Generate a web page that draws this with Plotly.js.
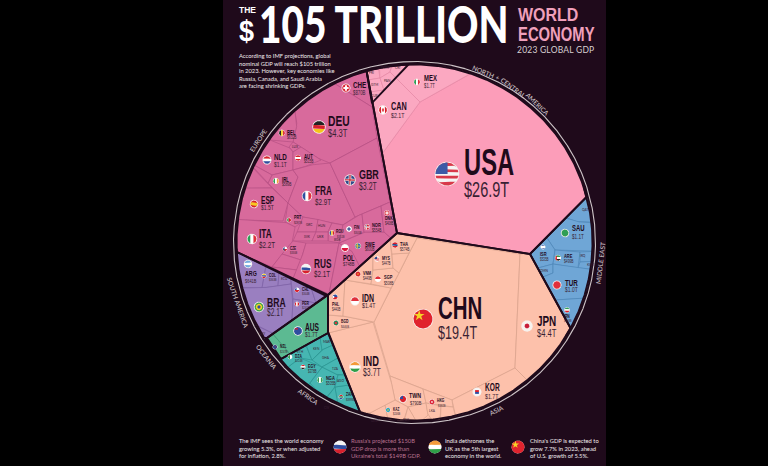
<!DOCTYPE html>
<html><head><meta charset="utf-8">
<script src="https://cdn.plot.ly/plotly-3.0.1.min.js"></script>
<style>html,body{margin:0;padding:0;background:#000}</style></head>
<body><div id="chart" style="width:768px;height:466px"></div>
<script>
// ---------- data ----------
const codes = ["USA","CHN","JPN","DEU","IND","GBR","FRA","ITA","CAN","RUS","BRA","AUS","KOR","MEX","ESP","IDN","NLD","SAU","TUR","CHE","TWN","POL","ARG","BEL","SWE","IRL","NOR","ISR","AUT","ARE","THA","NGA","EGY","ZAF","SGP","MYS","VNM","PHL","BGD","HKG","DNK","FIN","ROU","IRN","COL","CHL","PER","DZA","KAZ","CZE","PRT","NZL"];
const gdp = ["$26.9T","$19.4T","$4.4T","$4.3T","$3.7T","$3.2T","$2.9T","$2.2T","$2.1T","$2.1T","$2.1T","$1.7T","$1.7T","$1.7T","$1.5T","$1.4T","$1.1T","$1.1T","$1.0T","$870B","$790B","$748B","$641B","$632B","$600B","$589B","$554B","$535B","$515B","$499B","$574B","$505B","$378B","$399B","$508B","$447B","$449B","$440B","$446B","$382B","$408B","$305B","$351B","$368B","$363B","$344B","$265B","$224B","$246B","$330B","$287B","$247B"];
const regionNames = ["NORTH","+","CENTRAL","AMERICA","EUROPE","SOUTH AMERICA","OCEANIA","AFRICA","ASIA","MIDDLE EAST"];
const tinyLabels = ["PRI","DOM","CRI","GTM","PAN","CUB","GRC","HUN","SVK","UKR","BGR","LUX","ECU","URY","ETH","KEN","MAR","GHA","TZA","AGO","CIV","UZB","PAK","LKA","QAT","KWT","IRQ","OMN"];
const titleMain = "105 TRILLION";
const introText = "According to IMF projections, global<br>nominal GDP will reach $105 trillion<br>in 2023. However, key economies like<br>Russia, Canada, and Saudi Arabia<br>are facing shrinking GDPs.";
const notes = ["The IMF sees the world economy<br>growing 5.3%, or when adjusted<br>for inflation, 2.8%.",
 "Russia's projected $150B<br>GDP drop is more than<br>Ukraine's total $149B GDP.",
 "India dethrones the<br>UK as the 5th largest<br>economy in the world.",
 "China's GDP is expected to<br>grow 7.7% in 2023, ahead<br>of U.S. growth of 5.5%."];

// ---------- geometry tables ----------
const BG="#1f0a1b", INK="#1f0a1b";
const CX=414.5, CY=242.5, R=178;
const regionStyle = {
 usa:{f:"#fc9db9",l:"#e58aa6"}, nam:{f:"#fba8c1",l:"#e58aa6"},
 eur:{f:"#d86a9c",l:"#b65084"}, asi:{f:"#fdc1ab",l:"#d9a28c"},
 mde:{f:"#6fa6d6",l:"#4f86b8"}, sam:{f:"#9a7fc0",l:"#7d62a5"},
 oce:{f:"#5cba92",l:"#3f9874"}, afr:{f:"#46b6b2",l:"#2b9491"}
};
const regionOutlines = [
 ["usa",[[366,68],[397,233],[530,254],[600,184],[640,60],[400,30]]],
 ["eur",[[366,68],[397,233],[328,295],[237,252],[200,180],[280,40]]],
 ["asi",[[397,233],[530,254],[570,327],[580,345],[560,460],[400,460],[360,412],[328,333],[328,295]]],
 ["mde",[[530,254],[600,184],[650,240],[580,345],[570,327]]],
 ["sam",[[237,252],[326,296],[267,338],[200,340],[200,250]]],
 ["oce",[[328,295],[328,333],[281,359],[267,338]]],
 ["afr",[[328,333],[360,412],[300,420],[281,359]]],
 ["nam",[[366,68],[372,103],[396,78],[408,65],[400,40],[360,40]]]
];
const cells = [
 ["usa",[[382,154],[420,102],[468,75],[500,60],[640,120],[600,184],[586,198],[530,254],[397,233]]],
 ["nam",[[372,103],[396,78],[420,102],[382,154]]],
 ["nam",[[396,78],[408,65],[420,40],[480,50],[468,75],[420,102]]],
 ["nam",[[366,68],[378,65],[380,78],[368,80]]],["nam",[[378,60],[393,60],[390,72],[380,78]]],
 ["nam",[[393,60],[408,65],[396,78],[390,72]]],["nam",[[368,80],[380,78],[384,90],[370,92]]],
 ["nam",[[380,78],[390,72],[396,78],[384,90]]],["nam",[[370,92],[384,90],[372,103]]],
 // Europe
 ["eur",[[332,82],[372,107],[366,68],[345,55]]],
 ["eur",[[332,82],[372,107],[377,138],[330,163],[321,160],[301,147],[293,142],[297,125],[295,112],[310,80]]],
 ["eur",[[295,112],[297,125],[293,142],[270,140],[260,120]]],
 ["eur",[[293,142],[301,147],[293,152],[289,147]]],
 ["eur",[[270,140],[289,147],[293,152],[293,170],[272,175],[250,163]]],
 ["eur",[[293,152],[301,147],[321,160],[310,165],[293,170]]],
 ["eur",[[272,175],[293,170],[298,177],[288,203],[268,183]]],
 ["eur",[[250,163],[272,175],[268,183],[253,168]]],
 ["eur",[[253,168],[268,183],[272,188],[240,188]]],
 ["eur",[[240,188],[272,188],[288,203],[283,221],[230,219]]],
 ["eur",[[288,203],[303,217],[302,222],[295,227],[285,222]]],
 ["eur",[[230,219],[285,222],[295,227],[293,241],[272,267],[237,252],[220,235]]],
 ["eur",[[293,170],[310,165],[330,163],[355,217],[343,225],[303,217],[288,203],[298,177]]],
 ["eur",[[330,163],[377,138],[390,202],[355,217]]],
 ["eur",[[303,217],[318,219.5],[316,232],[297,232]]],["eur",[[318,219.5],[332,223],[328,232],[316,232]]],
 ["eur",[[332,223],[343,225],[340,243],[328,241],[328,232]]],["eur",[[297,232],[316,232],[312,241],[293,241]]],
 ["eur",[[316,232],[328,232],[328,241],[312,241]]],
 ["eur",[[293,241],[306,243],[301,260],[282,254]]],["eur",[[282,254],[301,260],[297,270],[272,267]]],
 ["eur",[[272,267],[297,270],[293,278.5]]],
 ["eur",[[306,243],[339,243],[329,294],[293,278.5],[301,260]]],
 ["eur",[[339,243],[353,252],[360,267],[329,294]]],
 ["eur",[[339,243],[364,232],[384,232],[392,239],[360,267],[353,252]]],
 ["eur",[[343,225],[355,217],[362,214],[364,232],[339,243]]],
 ["eur",[[362,214],[381,206],[384,232],[364,232]]],
 ["eur",[[381,206],[390,202],[397,233],[392,239],[384,232]]],
 // Asia
 ["asi",[[417,238],[520,254],[515,368],[452,400],[390,376],[374,322]]],
 ["asi",[[520,254],[530,254],[570,327],[580,345],[560,400],[527,380],[515,368]]],
 ["asi",[[515,368],[527,380],[500,440],[460,430],[456,418],[452,400]]],
 ["asi",[[390,376],[423,389],[426,403],[408,407],[395,400]]],
 ["asi",[[423,389],[452,400],[453,407],[426,403]]],
 ["asi",[[408,407],[426,403],[428,415],[418,425]]],["asi",[[426,403],[441,406],[440,430],[428,415]]],
 ["asi",[[441,406],[453,407],[456,418],[458,430],[440,430]]],
 ["asi",[[370,413],[385,405],[390,430],[372,430]]],["asi",[[385,405],[395,400],[408,407],[405,418],[396,430],[390,430]]],
 ["asi",[[408,407],[418,425],[412,435],[396,430],[405,418]]],
 ["asi",[[328,333],[373,322],[390,376],[395,400],[370,413],[360,412]]],
 ["asi",[[328,333],[328,315],[343,316],[373,322]]],
 ["asi",[[328,295],[345,280],[343,316],[328,315]]],
 ["asi",[[345,280],[391,288],[374,322],[343,316]]],
 ["asi",[[345,280],[373,255],[373,270],[371,284]]],
 ["asi",[[371,284],[373,270],[393,268],[399,273],[391,288]]],
 ["asi",[[373,255],[390,239],[392,254],[393,268],[373,270]]],
 ["asi",[[392,254],[409,253],[399,273],[393,268]]],
 ["asi",[[390,239],[397,233],[417,238],[409,253],[392,254]]],
 // Middle East
 ["mde",[[566,218],[586,198],[620,190],[620,222],[578,222]]],
 ["mde",[[547,238],[566,218],[578,222],[620,222],[620,252],[555,250]]],
 ["mde",[[530,254],[547,238],[555,250],[553,264],[538,268]]],
 ["mde",[[555,250],[580,252],[578,268],[553,264]]],
 ["mde",[[580,252],[620,252],[620,262],[580,262]]],
 ["mde",[[580,262],[620,262],[620,272],[578,268]]],
 ["mde",[[538,268],[553,264],[553,273],[543,277]]],
 ["mde",[[543,277],[553,273],[553,264],[578,268],[620,272],[620,290],[590,298],[555,300]]],
 ["mde",[[555,300],[590,298],[620,290],[620,330],[580,345],[570,327]]],
 // South America
 ["sam",[[237,252],[266,266],[262,288],[240,288],[220,270]]],
 ["sam",[[266,266],[279,272],[278,286],[262,288]]],
 ["sam",[[279,272],[291,278],[291,284],[278,286]]],
 ["sam",[[240,288],[262,288],[291,284],[293,299],[292,320],[272,333],[255,325],[225,295]]],
 ["sam",[[291,278],[311,287.5],[316,303],[293,299],[291,284]]],
 ["sam",[[293,299],[316,303],[292,320]]],
 ["sam",[[311,287.5],[326,296],[316,303]]],
 ["sam",[[255,325],[272,333],[267,338],[245,345]]],
 // Oceania
 ["oce",[[267,338],[273,334],[290,354],[281,359]]],
 ["oce",[[273,334],[326,296],[328,295],[328,333],[290,354]]],
 // Africa
 ["afr",[[310,383],[322,367],[338,375],[335,387],[325,400]]],
 ["afr",[[335,387],[349,385],[360,412],[345,430],[337,403]]],
 ["afr",[[325,400],[335,387],[337,403],[330,420],[315,405]]],
 ["afr",[[288,367],[300,358],[322,367],[310,383],[300,395],[275,375]]],
 ["afr",[[281,359],[306,345],[312,360],[300,358],[288,367]]],
 ["afr",[[306,345],[320,337],[322,350],[312,360]]],
 ["afr",[[320,337],[328,333],[333,345],[322,350]]],
 ["afr",[[312,360],[322,350],[333,345],[338,358],[322,367]]],
 ["afr",[[338,358],[345,375],[338,375],[322,367]]],
 ["afr",[[345,375],[349,385],[335,387],[338,375]]]
];
const bandsH=(a,b,c)=>[[a,-1,-1,1,-.33],[b,-1,-.33,1,.33],[c,-1,.33,1,1]];
const bandsV=(a,b,c)=>[[a,-1,-1,-.33,1],[b,-.33,-1,.33,1],[c,.33,-1,1,1]];
const disc=(bg,c,s)=>[[bg,-1,-1,1,1],[c,-1,-1,1,1,s]];
const crossF=(bg,c)=>[[bg,-1,-1,1,1],[c,-.25,-.7,.25,.7],[c,-.7,-.25,.7,.25]];
const usaStripes=[];for(let i=0;i<7;i++){usaStripes.push([i%2?"#f4f4f4":"#d8394a",-1,-1+i*2/7,1,-1+(i+1)*2/7]);}
usaStripes.push(["#3c5aa6",-1,-1,0.05,0]);
const flagLayers={
 USA:usaStripes,CHN:[["#e0232e",-1,-1,1,1]],JPN:disc("#f7f3ee","#c81e3a",.5),
 DEU:bandsH("#222","#d5212c","#f5c518"),IND:bandsH("#f39a3a","#fff","#2f9e48"),
 GBR:[["#2f4a8a",-1,-1,1,1],["#f2f2f2",-.28,-1,.28,1],["#f2f2f2",-1,-.28,1,.28],["#c8202f",-.13,-1,.13,1],["#c8202f",-1,-.13,1,.13]],
 FRA:bandsV("#2f4da0","#fff","#e0303c"),ITA:bandsV("#2d9e55","#fff","#e0303c"),
 CAN:[["#fff",-1,-1,1,1],["#d8202c",-1,-1,-.5,1],["#d8202c",.5,-1,1,1],["#d8202c",-.2,-.35,.2,.35]],
 RUS:bandsH("#f4f4f4","#2f4da0","#d8202c"),BRA:[["#3aa04a",-1,-1,1,1],["#f5d327",-1,-1,1,1,.72],["#2f4da0",-1,-1,1,1,.38]],
 AUS:[["#2f4da0",-1,-1,1,1],["#d8202c",-.8,-.7,0,-.35]],KOR:[["#f5f5f5",-1,-1,1,1],["#d8202c",-.5,-.5,.5,0],["#2f4da0",-.5,0,.5,.5]],
 MEX:bandsV("#2f9e55","#fff","#e0303c"),ESP:[["#d8202c",-1,-1,1,1],["#f6c722",-1,-.5,1,.5]],
 IDN:[["#e0303c",-1,-1,1,0],["#fff",-1,0,1,1]],NLD:bandsH("#d8202c","#fff","#2f4da0"),
 SAU:[["#2f9e55",-1,-1,1,1],["#fff",-.5,-.1,.5,.1]],TUR:disc("#e0303c","#e0303c",.4),CHE:crossF("#dc2336","#fff"),
 TWN:[["#d8202c",-1,-1,1,1],["#2f4da0",-1,-1,0,0]],POL:[["#fff",-1,-1,1,0],["#dc143c",-1,0,1,1]],
 ARG:bandsH("#74acdf","#fff","#74acdf"),BEL:bandsV("#222","#f5d327","#e0303c"),
 SWE:[["#2f6fb0",-1,-1,1,1],["#f5d327",-.5,-1,-.1,1],["#f5d327",-1,-.2,1,.2]],IRL:bandsV("#2f9e55","#fff","#f39a3a"),
 NOR:[["#d8202c",-1,-1,1,1],["#fff",-.55,-1,-.05,1],["#fff",-1,-.25,1,.25],["#2f4a8a",-.4,-1,-.2,1],["#2f4a8a",-1,-.1,1,.1]],
 ISR:[["#fff",-1,-1,1,1],["#2f4da0",-1,-.8,1,-.5],["#2f4da0",-1,.5,1,.8]],AUT:bandsH("#d8202c","#fff","#d8202c"),
 ARE:[["#fff",-1,-1,1,1],["#2f9e55",-1,-1,1,-.33],["#222",-1,.33,1,1],["#d8202c",-1,-1,-.4,1]],THA:bandsH("#d8202c","#2f4a8a","#d8202c"),
 NGA:bandsV("#2f9e55","#fff","#2f9e55"),EGY:bandsH("#d8202c","#fff","#222"),ZAF:bandsH("#d8202c","#2f9e55","#2f4da0"),
 SGP:[["#e0303c",-1,-1,1,0],["#fff",-1,0,1,1]],MYS:[["#fff",-1,-1,1,1],["#d8202c",-1,-.6,1,-.2],["#d8202c",-1,.2,1,.6],["#2f4a8a",-1,-1,0,0]],
 VNM:disc("#d8202c","#f5d327",.35),PHL:[["#2f4da0",-1,-1,1,0],["#d8202c",-1,0,1,1],["#fff",-1,-.4,-.3,.4]],
 BGD:disc("#1f8a55","#e0303c",.55),HKG:disc("#dc2336","#fff",.4),DNK:crossF("#d8202c","#fff"),
 FIN:crossF("#fff","#2f4a8a"),ROU:bandsV("#2f4da0","#f5d327","#d8202c"),IRN:bandsH("#2f9e55","#fff","#d8202c"),
 COL:bandsH("#f5d327","#2f4da0","#d8202c"),CHL:[["#fff",-1,-1,1,0],["#d8202c",-1,0,1,1],["#2f4da0",-1,-1,-.2,0]],
 PER:bandsV("#d8202c","#fff","#d8202c"),DZA:[["#2f9e55",-1,-1,0,1],["#fff",0,-1,1,1]],KAZ:disc("#30a5c0","#f5d327",.4),
 CZE:[["#fff",-1,-1,1,0],["#d8202c",-1,0,1,1],["#2f4a8a",-1,-1,-.2,1]],PRT:[["#2f9e55",-1,-1,-.2,1],["#d8202c",-.2,-1,1,1]],
 NZL:[["#2f4a8a",-1,-1,1,1],["#d8202c",.2,-.6,.5,.4]]
};
const labelLayout={
 USA:[447,174,11.5, 463,162,36, 463,189,22],
 CHN:[423,319,9.5, 437,308,31, 437,332.5,19],
 JPN:[527,326,5, 536,320.5,15, 536,332.5,11.5],
 DEU:[319,127,6, 327,120,15.5, 327,133,11.5],
 IND:[355,367,5, 362,361,14, 362,372,10.5],
 GBR:[350,180,5, 358,174,13.5, 358,186,10.5],
 FRA:[307,196,4.5, 314,191,12.5, 314,201,9.5],
 ITA:[252,239,4.5, 258,234,12.5, 258,244,9.5],
 CAN:[383,110,4, 390,106,11, 390,115,8],
 RUS:[306,269,4.5, 313,264,12.5, 313,273.5,9.5],
 BRA:[259,307,4.5, 266,302,13, 266,312,10],
 AUS:[298,331,4, 304,327,10, 304,334,7.5],
 KOR:[477,392,3.8, 484,387,10, 484,396,8],
 MEX:[417,82,3, 423,77.5,9, 423,85,6.5],
 ESP:[254,204,3.5, 260,200,10, 260,207.5,7.5],
 IDN:[355,301,3.8, 361,298,10.5, 361,305.5,8],
 NLD:[267,160,3.8, 273,156.5,9.5, 273,164,7.5],
 SAU:[565,233,3.5, 571,227.5,9, 571,236.5,7],
 TUR:[557,285,3.8, 564,282,9.5, 564,289.5,7.5],
 CHE:[346,88,3.8, 352,84,9.5, 352,92,6.5],
 TWN:[403,399,3.2, 408,395.5,8, 409,403,6],
 POL:[345,248,3.2, 342,257.5,8.5, 342,264,6],
 ARG:[248,264,3.5, 244,273,8, 244,280.5,6],
 BEL:[282,133,3, 286,132,6.5, 286,137,5],
 SWE:[358,246,2.8, 364,244,6.5, 364,249,5],
 IRL:[276,181,2.8, 281,179,6.5, 281,184,5],
 NOR:[367,227,2.6, 371,225,6, 371,230,5],
 ISR:[543,247,2.2, 539,254,6, 539,259.5,4.5],
 AUT:[298,158,2.8, 303,156,6.5, 303,161,5],
 ARE:[558,258,2.8, 563,256,6, 563,261,5],
 THA:[395,245,2.8, 399,243.5,6, 399,249,5],
 NGA:[320,380,2.8, 325,378,6, 325,383,5],
 EGY:[303,367,2.2, 307,366,5.5, 307,371,4.5],
 ZAF:[341,397,2.2, 345,394,5, 345,399,4.2],
 SGP:[378,279,2.8, 383,277,6, 383,283,5],
 MYS:[377,259,2.5, 381,258,5.5, 381,263,4.5],
 VNM:[358,274,2.5, 362,273,5.5, 362,278,4.5],
 PHL:[335,297,2.5, 331,304,5.5, 331,309,4.5],
 BGD:[336,323,2.5, 340,321,5, 340,326,4.2],
 HKG:[432,402,2.5, 436,400,5, 437,405,4],
 DNK:[387,213,2.5, 384,218,5.5, 384,223,4.5],
 FIN:[349,229,2.5, 353,227,5, 353,232,4],
 ROU:[332,233,2.5, 335,231,5, 336,236,4],
 IRN:[567,310,2.5, 563,316,5, 563,320,4],
 COL:[264,276,2.2, 268,274.5,5, 268,279,4],
 CHL:[297,290,2.2, 301,289,5, 301,293.5,4],
 PER:[297,304,2.2, 301,303,5, 301,307.5,4],
 DZA:[290,357,2, 294,356,5, 294,360.5,4],
 KAZ:[388,410,2.2, 392,409,4.6, 392,413.5,3.8],
 CZE:[285,249,2, 289,248,4.6, 289,252.5,3.8],
 PRT:[289,220,2, 293,217,5.5, 293,222,4.2],
 NZL:[275,347,2.2, 279,346,5, 279,351,4]
};
const tinyLayout={PRI:[371,73],DOM:[385,68],CRI:[397,68],GTM:[374,85],PAN:[387,81],CUB:[374,96],
 GRC:[309,225],HUN:[322,226],SVK:[307,237],UKR:[320,237],BGR:[337,240],LUX:[295,147],ECU:[284,279],URY:[262,334],
 ETH:[300,352],KEN:[316,349],MAR:[326,342],GHA:[326,358],TZA:[335,369],AGO:[340,381],CIV:[327,408],
 UZB:[374,421],PAK:[406,420],LKA:[432,411],QAT:[585,210],KWT:[590,265],IRQ:[583,256],OMN:[544,271]};
const regionLabelLayout={NORTH:[483,71,23],"+":[498,77,29],CENTRAL:[513,87,36],AMERICA:[538,104,44],EUROPE:[258,140,-57],
 "SOUTH AMERICA":[238,302,71],OCEANIA:[267,357,52],AFRICA:[308,396,35],ASIA:[496,410,-26],"MIDDLE EAST":[600,263,-83]};

// ---------- helpers ----------
function clamped(poly,cx,cy,r){
 const out=[];
 const n=poly.length;
 for(let i=0;i<n;i++){
  const a=poly[i],b=poly[(i+1)%n];
  const len=Math.hypot(b[0]-a[0],b[1]-a[1]);
  const steps=Math.max(1,Math.ceil(len/(r<20?0.3:1.5)));
  for(let k=0;k<steps;k++){
   let x=a[0]+(b[0]-a[0])*k/steps, y=a[1]+(b[1]-a[1])*k/steps;
   const d=Math.hypot(x-cx,y-cy);
   if(d>r){x=cx+(x-cx)*r/d;y=cy+(y-cy)*r/d;}
   out.push([x,y]);
  }
 }
 out.push(out[0]);
 return out;
}
const traces=[];
function addPoly(pts,fill,line,width){
 traces.push({type:"scatter",mode:"lines",x:pts.map(p=>p[0]),y:pts.map(p=>p[1]),
  fill:fill?"toself":"none",fillcolor:fill||"rgba(0,0,0,0)",
  line:{color:line||"rgba(0,0,0,0)",width:width||0},hoverinfo:"skip",showlegend:false});
}
function drawFlag(code,fx,fy,r,ring){
 const layers=flagLayers[code]; if(!layers) return;
 addPoly(clamped([[fx-9e3,fy-9e3],[fx+9e3,fy-9e3],[fx+9e3,fy+9e3],[fx-9e3,fy+9e3]],fx,fy,r+ring),"#f7f1ee");
 layers.forEach(L=>{
  const rr=r*(L[5]||1);
  const p=[[fx+L[1]*r,fy+L[2]*r],[fx+L[3]*r,fy+L[2]*r],[fx+L[3]*r,fy+L[4]*r],[fx+L[1]*r,fy+L[4]*r]];
  addPoly(clamped(p,fx,fy,rr),L[0]);
 });
 if(code==="CHN"){traces.push({type:"scatter",mode:"markers",x:[fx-r*.4],y:[fy-r*.35],marker:{symbol:"star",size:r*.85,color:"#f5d327"},hoverinfo:"skip",showlegend:false});}
}

regionOutlines.forEach(o=>addPoly(clamped(o[1],CX,CY,R),regionStyle[o[0]].f));
cells.forEach(c=>{const s=regionStyle[c[0]];addPoly(clamped(c[1],CX,CY,R),s.f,s.l,0.7);});
regionOutlines.forEach(o=>addPoly(clamped(o[1],CX,CY,R),null,INK,1.9));
addPoly(clamped([[CX-999,CY-999],[CX+999,CY-999],[CX+999,CY+999],[CX-999,CY+999]],CX,CY,181),null,"#cdc4c7",1.1);

const ann=[], squeeze=[];
const SANS='"Liberation Sans",Arial,sans-serif', LATO='Lato,"Noto Sans",sans-serif';
function T(x,y,text,size,opt){opt=opt||{};
 ann.push({x:x,y:y,xref:"x",yref:"y",text:text,showarrow:false,xanchor:opt.a||"left",yanchor:opt.v||"middle",align:opt.al||"left",
  textangle:opt.rot||0,borderpad:0,
  font:{family:opt.fam||SANS,size:size,color:opt.c||INK,weight:opt.w||400}});
 squeeze.push(opt.sq?{f:opt.sq,mode:opt.mode||"spacingAndGlyphs"}:null);
}
codes.forEach((code,i)=>{
 const L=labelLayout[code]; if(!L) return;
 drawFlag(code,L[0],L[1],L[2],L[2]>3?0.8:0.4);
 T(L[3],L[4],code,L[5],{w:700,sq:0.66});
 T(L[6],L[7],gdp[i],L[8],{c:"#3a1f33",sq:0.66});
});
tinyLabels.forEach(t=>{const p=tinyLayout[t]; if(p) T(p[0],p[1],t,3.2,{a:"center",c:"#3a1f33",fam:LATO});});
regionNames.forEach(n=>{const p=regionLabelLayout[n];
 T(p[0],p[1],n,6.5,{a:"center",rot:p[2],fam:LATO,c:"#cfc5c8",w:500});});

T(238,10,"THE",8.5,{w:700,c:"#ffffff"});
T(238,30,"$",30,{w:700,c:"#ffffff",sq:0.9});
T(258,23.5,titleMain,51,{w:900,fam:LATO,c:"#ffffff",sq:0.76});
T(517,14,"WORLD",19,{w:700,c:"#f0a0bb",sq:0.84});
T(517,34,"ECONOMY",19.5,{w:700,c:"#f0a0bb",sq:0.76});
T(516,49.5,"2023 GLOBAL GDP",8.5,{fam:LATO,c:"#d7cfd2",sq:1.04,mode:"spacing"});
T(238,70,introText,5.8,{fam:LATO,c:"#f1ecee"});
T(238,447.5,notes[0],5.8,{fam:LATO,c:"#f1ecee"});
T(350,447.5,notes[1],5.8,{fam:LATO,c:"#b9718f"});
T(444,447.5,notes[2],5.8,{fam:LATO,c:"#f1ecee"});
T(529,447.5,notes[3],5.8,{fam:LATO,c:"#f1ecee"});
drawFlag("RUS",340,447,6.5,0);
drawFlag("IND",435,447,6.5,0);
drawFlag("CHN",518,447,6.5,0);

Plotly.newPlot("chart",traces,{
 width:768,height:466,showlegend:false,hovermode:false,
 margin:{l:223,r:162,t:0,b:0,pad:0},paper_bgcolor:"#000",plot_bgcolor:BG,
 xaxis:{range:[223,606],visible:false,fixedrange:true},
 yaxis:{range:[466,0],visible:false,fixedrange:true},
 annotations:ann
},{displayModeBar:false,staticPlot:true}).then(()=>{
 document.querySelectorAll("g.annotation").forEach(g=>{
  const s=squeeze[+g.getAttribute("data-index")]; if(!s) return;
  const el=g.querySelector("text"); if(!el) return;
  el.setAttribute("textLength",el.getComputedTextLength()*s.f);
  el.setAttribute("lengthAdjust",s.mode);
 });
});
</script></body></html>
